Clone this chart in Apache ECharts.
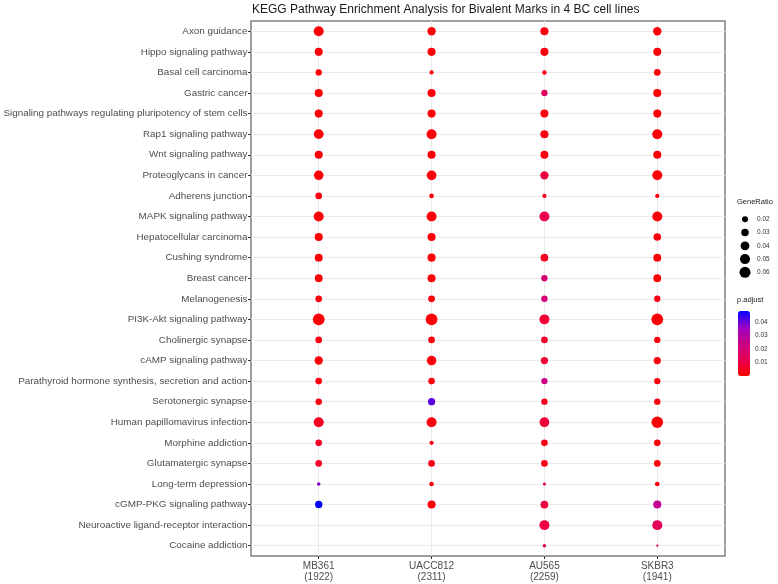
<!DOCTYPE html>
<html><head><meta charset="utf-8">
<script src="https://cdn.jsdelivr.net/npm/echarts@6/dist/echarts.min.js"></script>
<style>html,body{margin:0;padding:0;background:#fff}#c{width:778px;height:584px}</style>
</head><body><div id="c"></div>
<script>
const pathways = [
  'Axon guidance','Hippo signaling pathway','Basal cell carcinoma','Gastric cancer',
  'Signaling pathways regulating pluripotency of stem cells','Rap1 signaling pathway',
  'Wnt signaling pathway','Proteoglycans in cancer','Adherens junction','MAPK signaling pathway',
  'Hepatocellular carcinoma','Cushing syndrome','Breast cancer','Melanogenesis',
  'PI3K-Akt signaling pathway','Cholinergic synapse','cAMP signaling pathway',
  'Parathyroid hormone synthesis, secretion and action','Serotonergic synapse',
  'Human papillomavirus infection','Morphine addiction','Glutamatergic synapse',
  'Long-term depression','cGMP-PKG signaling pathway','Neuroactive ligand-receptor interaction',
  'Cocaine addiction'
];
const cellLines = ['MB361\n(1922)','UACC812\n(2311)','AU565\n(2259)','SKBR3\n(1941)'];

const ratioMB361   = [0.050,0.034,0.022,0.034,0.034,0.048,0.034,0.046,0.024,0.050,0.034,0.033,0.032,0.025,0.068,0.024,0.036,0.024,0.023,0.050,0.024,0.024,0.008,0.029,null,null];
const padjMB361    = [0.001,0.001,0.001,0.001,0.001,0.001,0.001,0.001,0.002,0.001,0.001,0.001,0.001,0.002,0.001,0.003,0.001,0.002,0.002,0.005,0.006,0.006,0.038,0.048,null,null];
const ratioUACC812 = [0.036,0.034,0.011,0.034,0.034,0.050,0.034,0.048,0.013,0.050,0.034,0.034,0.033,0.025,0.068,0.024,0.046,0.024,0.028,0.050,0.011,0.024,0.013,0.034,null,null];
const padjUACC812  = [0.001,0.001,0.002,0.001,0.001,0.001,0.001,0.001,0.002,0.001,0.001,0.001,0.001,0.002,0.001,0.002,0.001,0.002,0.041,0.002,0.004,0.004,0.002,0.001,null,null];
const ratioAU565   = [0.034,0.034,0.012,0.022,0.033,0.034,0.033,0.036,0.011,0.050,null,0.031,0.022,0.022,0.050,0.024,0.028,0.022,0.022,0.048,0.024,0.024,0.007,0.032,0.050,0.008];
const padjAU565    = [0.002,0.002,0.004,0.016,0.002,0.003,0.002,0.010,0.005,0.011,null,0.005,0.019,0.020,0.008,0.007,0.008,0.023,0.005,0.009,0.004,0.004,0.014,0.010,0.010,0.013];
const ratioSKBR3   = [0.036,0.034,0.024,0.034,0.034,0.050,0.034,0.050,0.011,0.050,0.030,0.033,0.032,0.022,0.068,0.022,0.028,0.022,0.022,0.066,0.024,0.024,0.013,0.034,0.050,0.004];
const padjSKBR3    = [0.001,0.001,0.001,0.001,0.001,0.001,0.001,0.001,0.002,0.001,0.002,0.001,0.001,0.003,0.001,0.002,0.002,0.002,0.002,0.001,0.002,0.002,0.002,0.026,0.014,0.018];

const sizeBreaks = ['0.02','0.03','0.04','0.05','0.06'];
const padjTicks = [0.01,0.02,0.03,0.04];
const padjMin = 0, padjMax = 0.048;

const ratios = [ratioMB361, ratioUACC812, ratioAU565, ratioSKBR3];
const padjs = [padjMB361, padjUACC812, padjAU565, padjSKBR3];
const data = [];
for (let c = 0; c < ratios.length; c++) {
  for (let r = 0; r < pathways.length; r++) {
    if (ratios[c][r] != null) data.push([c, r, ratios[c][r], padjs[c][r]]);
  }
}
const dotSize = v => Math.max(1.5, -0.83 + 48.3 * Math.sqrt(v));
const FONT = 'Liberation Sans, Arial, sans-serif';
const colIdx = cellLines.map((_, i) => i);
const rowIdx = pathways.map((_, i) => i);

const chart = echarts.init(document.getElementById('c'));
chart.setOption({
  animation: false,
  backgroundColor: '#fff',
  textStyle: { fontFamily: FONT },
  title: [
    { text: 'KEGG Pathway Enrichment Analysis for Bivalent Marks in 4 BC cell lines', left: 252, top: 3.5, padding: 0,
      textStyle: { fontSize: 12, fontWeight: 'normal', color: '#1a1a1a', fontFamily: FONT } },
    { text: 'GeneRatio', left: 737, top: 198, padding: 0,
      textStyle: { fontSize: 7.5, fontWeight: 'normal', color: '#1a1a1a', fontFamily: FONT } },
    { text: 'p.adjust', left: 737, top: 296, padding: 0,
      textStyle: { fontSize: 7.5, fontWeight: 'normal', color: '#1a1a1a', fontFamily: FONT } }
  ],
  grid: [
    { left: 251, right: 53, top: 21, bottom: 28, show: true, borderColor: '#808080', borderWidth: 1.5, backgroundColor: 'transparent', containLabel: false },
    { left: 738, width: 14, top: 212.7, height: 66.3 },
    { left: 738, width: 12, top: 311, height: 65 }
  ],
  xAxis: [
    { type: 'value', gridIndex: 0, min: -0.6, max: 3.6,
      axisLine: { show: false, onZero: false },
      axisTick: { show: true, customValues: colIdx, length: 3, lineStyle: { color: '#333' } },
      axisLabel: { customValues: colIdx, formatter: v => cellLines[Math.round(v)] || '', color: '#4d4d4d', fontSize: 10, lineHeight: 11.5, margin: 4, fontFamily: FONT },
      splitLine: { show: true, lineStyle: { color: '#ebebeb', width: 1 } } },
    { type: 'value', gridIndex: 1, min: -1, max: 1, show: false, axisLine: { onZero: false } },
    { type: 'value', gridIndex: 2, min: 0, max: 1, show: false, axisLine: { onZero: false } }
  ],
  yAxis: [
    { type: 'value', gridIndex: 0, inverse: true, min: -0.5, max: 25.5,
      axisLine: { show: false, onZero: false },
      axisTick: { show: true, customValues: rowIdx, length: 3, lineStyle: { color: '#333' } },
      axisLabel: { customValues: rowIdx, formatter: v => pathways[Math.round(v)] || '', color: '#4d4d4d', fontSize: 9.85, margin: 3.5, fontFamily: FONT },
      splitLine: { show: true, lineStyle: { color: '#ebebeb', width: 1 } } },
    { type: 'category', gridIndex: 1, data: sizeBreaks, inverse: true, position: 'right',
      axisLine: { show: false, onZero: false }, axisTick: { show: false }, splitLine: { show: false },
      axisLabel: { color: '#333', fontSize: 6.5, margin: 5, fontFamily: FONT } },
    { type: 'value', gridIndex: 2, min: padjMin, max: padjMax, position: 'right',
      axisLine: { show: false, onZero: false }, splitLine: { show: false },
      axisTick: { show: true, inside: true, customValues: padjTicks, length: 2.5, lineStyle: { color: '#fff', width: 1 } },
      axisLabel: { customValues: padjTicks, color: '#333', fontSize: 6.5, margin: 5, fontFamily: FONT, formatter: v => v.toFixed(2) } },
    { type: 'value', gridIndex: 2, min: padjMin, max: padjMax, position: 'left',
      axisLine: { show: false, onZero: false }, splitLine: { show: false },
      axisTick: { show: true, inside: true, customValues: padjTicks, length: 2.5, lineStyle: { color: '#fff', width: 1 } },
      axisLabel: { show: false } }
  ],
  visualMap: [{
    type: 'continuous', seriesIndex: 0, dimension: 3, min: padjMin, max: padjMax,
    calculable: false, text: ['', ''], showLabel: false, padding: 0,
    left: 738, top: 311, itemWidth: 12, itemHeight: 65, orient: 'vertical',
    inRange: { color: ['#FF0000', '#E8004F', '#CA0089', '#9A00C3', '#0000FF'] },
    hoverLink: false
  }],
  series: [
    { type: 'scatter', xAxisIndex: 0, yAxisIndex: 0, data: data,
      symbolSize: val => dotSize(val[2]), itemStyle: { opacity: 1 }, emphasis: { disabled: true }, z: 3 },
    { type: 'scatter', xAxisIndex: 1, yAxisIndex: 1, data: sizeBreaks.map(b => [0, b]),
      symbolSize: val => dotSize(parseFloat(val[1])), itemStyle: { color: '#000', opacity: 1 }, emphasis: { disabled: true } }
  ]
});
</script></body></html>
